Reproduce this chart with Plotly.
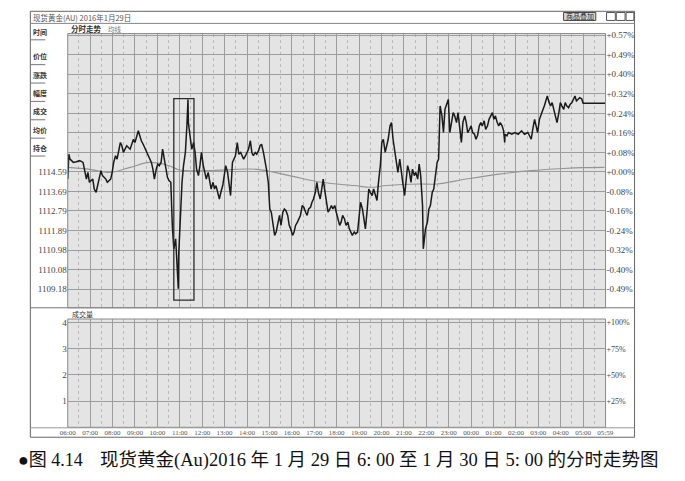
import pandas as pd
import plotly.graph_objects as go

# ---------------- data ----------------
minutes_from_open = [
    0, 3, 6, 15, 23, 32, 41, 50, 54, 58, 67, 71, 76, 80, 84, 89, 93, 102, 106, 115,
    119, 123, 128, 132, 141, 145, 149, 154, 158, 167, 171, 176, 180, 189, 193, 197, 202, 206, 211, 215,
    219, 224, 228, 232, 237, 241, 245, 250, 254, 258, 263, 267, 271, 276, 280, 284, 289, 293, 296, 297,
    299, 302, 306, 310, 315, 319, 322, 323, 328, 332, 337, 341, 345, 350, 354, 358, 363, 367, 371, 376,
    380, 384, 389, 393, 397, 402, 406, 410, 415, 419, 423, 428, 432, 436, 441, 445, 449, 454, 458, 463,
    467, 471, 476, 480, 484, 489, 493, 497, 502, 506, 511, 515, 519, 524, 528, 532, 537, 539, 541, 545,
    550, 554, 558, 563, 567, 571, 576, 580, 584, 589, 593, 597, 602, 606, 610, 615, 619, 623, 628, 632,
    637, 641, 645, 650, 654, 658, 663, 667, 671, 676, 680, 684, 689, 693, 697, 702, 706, 710, 715, 719,
    723, 728, 732, 736, 741, 745, 750, 754, 758, 762, 767, 771, 776, 780, 784, 789, 793, 797, 802, 806,
    810, 815, 819, 824, 828, 832, 837, 841, 845, 850, 854, 858, 863, 867, 871, 876, 880, 884, 889, 893,
    897, 902, 906, 910, 915, 919, 923, 928, 932, 937, 941, 945, 950, 952, 956, 958, 963, 967, 971, 976,
    980, 984, 989, 993, 996, 997, 1002, 1006, 1010, 1015, 1019, 1023, 1028, 1032, 1036, 1041, 1045, 1049, 1054, 1058,
    1063, 1067, 1071, 1076, 1080, 1084, 1089, 1093, 1097, 1102, 1106, 1110, 1115, 1119, 1124, 1128, 1132, 1137, 1141, 1145,
    1150, 1154, 1158, 1163, 1167, 1170, 1171, 1176, 1180, 1189, 1197, 1206, 1215, 1223, 1232, 1237, 1241, 1245, 1250, 1254,
    1258, 1263, 1267, 1271, 1276, 1280, 1284, 1289, 1293, 1297, 1302, 1306, 1310, 1315, 1319, 1323, 1328, 1332, 1336, 1341,
    1345, 1350, 1354, 1358, 1362, 1367, 1371, 1376, 1380, 1439,
]
price = [
    1114.26, 1115.41, 1115.18, 1115.03, 1115.06, 1115.11, 1115.03, 1114.26, 1114.57, 1114.11, 1114.26, 1113.80, 1113.65, 1113.96, 1114.34, 1114.65, 1114.42, 1114.26, 1114.11, 1114.26,
    1114.57, 1115.03, 1115.34, 1115.18, 1115.95, 1115.80, 1115.49, 1115.64, 1115.80, 1115.64, 1115.87, 1116.10, 1115.95, 1116.49, 1116.26, 1116.03, 1115.87, 1115.72, 1115.49, 1115.41,
    1115.18, 1115.03, 1114.72, 1114.26, 1114.72, 1114.95, 1114.88, 1115.03, 1115.64, 1115.18, 1114.57, 1114.34, 1114.19, 1114.11, 1112.12, 1111.04, 1111.50, 1110.12, 1109.20, 1110.74,
    1111.66, 1113.04, 1114.11, 1114.88, 1115.49, 1116.72, 1117.94, 1116.87, 1116.26, 1115.64, 1115.95, 1115.49, 1114.72, 1114.42, 1114.88, 1115.49, 1114.88, 1114.57, 1114.26, 1114.57,
    1114.11, 1113.80, 1114.11, 1113.80, 1113.96, 1113.65, 1113.34, 1113.65, 1113.96, 1114.42, 1114.88, 1114.57, 1114.11, 1113.50, 1115.03, 1115.18, 1115.34, 1115.95, 1115.41, 1115.49,
    1115.34, 1115.18, 1115.34, 1115.49, 1115.64, 1116.03, 1115.49, 1115.34, 1115.49, 1115.41, 1115.57, 1115.80, 1115.87, 1115.49, 1115.18, 1114.72, 1114.11, 1113.04, 1112.88, 1112.73,
    1112.12, 1111.66, 1111.81, 1112.27, 1112.58, 1112.12, 1112.73, 1112.88, 1112.81, 1112.58, 1112.12, 1111.96, 1111.66, 1111.81, 1112.12, 1112.27, 1112.42, 1112.58, 1113.04, 1112.96,
    1112.73, 1112.58, 1112.88, 1112.96, 1113.19, 1113.34, 1113.65, 1114.11, 1113.65, 1113.34, 1113.80, 1114.26, 1113.65, 1113.19, 1112.73, 1112.88, 1113.04, 1112.88, 1113.04, 1112.73,
    1112.42, 1112.12, 1112.27, 1112.58, 1112.42, 1112.12, 1112.27, 1111.96, 1111.81, 1111.66, 1111.81, 1111.73, 1111.81, 1112.58, 1113.19, 1112.88, 1112.27, 1111.96, 1112.88, 1113.80,
    1113.65, 1113.50, 1113.80, 1113.50, 1113.27, 1114.11, 1114.88, 1115.95, 1116.10, 1115.49, 1115.80, 1116.10, 1116.72, 1116.87, 1116.10, 1115.49, 1115.03, 1114.57, 1115.18, 1114.57,
    1114.11, 1113.50, 1114.26, 1114.88, 1114.57, 1114.11, 1114.72, 1114.42, 1114.57, 1114.26, 1114.95, 1114.42, 1113.04, 1111.04, 1111.66, 1111.96, 1112.27, 1112.88, 1113.04, 1113.65,
    1113.80, 1114.26, 1115.03, 1115.18, 1116.41, 1117.64, 1117.18, 1116.41, 1117.48, 1117.79, 1117.94, 1116.41, 1117.02, 1117.33, 1117.18, 1116.87, 1117.33, 1116.56, 1115.95, 1116.87,
    1117.18, 1116.87, 1116.41, 1116.56, 1116.72, 1116.41, 1116.33, 1116.10, 1116.26, 1116.72, 1116.87, 1116.72, 1116.95, 1116.56, 1116.72, 1117.02, 1117.18, 1117.33, 1117.02, 1117.18,
    1116.87, 1116.72, 1116.87, 1116.72, 1116.49, 1115.95, 1116.33, 1116.26, 1116.41, 1116.33, 1116.41, 1116.33, 1116.49, 1116.33, 1116.41, 1116.26, 1116.10, 1116.56, 1117.02, 1116.72,
    1116.41, 1117.02, 1117.18, 1117.41, 1117.64, 1117.94, 1118.10, 1117.79, 1117.64, 1117.79, 1117.48, 1117.18, 1116.87, 1117.33, 1117.79, 1117.64, 1117.48, 1117.79, 1117.64, 1117.56,
    1117.71, 1117.79, 1117.94, 1118.10, 1117.87, 1117.94, 1118.02, 1117.97, 1117.76, 1117.76,
]
avg_minutes = [0, 54, 115, 167, 219, 271, 297, 376, 506, 593, 680, 767, 810, 854, 941, 989, 1067, 1154, 1241, 1328, 1380, 1437]
avg_price = [1114.80, 1114.72, 1114.57, 1114.80, 1115.03, 1114.88, 1114.69, 1114.65, 1114.71, 1114.42, 1114.11,
             1113.96, 1113.88, 1113.96, 1114.03, 1114.03, 1114.26, 1114.49, 1114.65, 1114.75, 1114.79, 1114.80]

base_price = 1114.59          # 0.00% reference
price_step = 0.9015           # one grid row (about 0.08 %)
left_tick_labels = ["1114.59", "1113.69", "1112.79", "1111.89", "1110.98", "1110.08", "1109.18"]
right_tick_labels = ["+0.57%", "+0.49%", "+0.40%", "+0.32%", "+0.24%", "+0.16%", "+0.08%", "+0.00%",
                     "-0.08%", "-0.16%", "-0.24%", "-0.32%", "-0.40%", "-0.49%"]
volume_ticks = [1, 2, 3, 4]
volume_labels = ["1", "2", "3", "4"]
volume_pct_labels = ["+25%", "+50%", "+75%", "+100%"]
time_labels = ["06:00", "07:00", "08:00", "09:00", "10:00", "11:00", "12:00", "13:00", "14:00", "15:00",
               "16:00", "17:00", "18:00", "19:00", "20:00", "21:00", "22:00", "23:00", "00:00", "01:00",
               "02:00", "03:00", "04:00", "05:00", "05:59"]
sidebar_labels = ["时间", "价位", "涨跌", "幅度", "成交", "均价", "持仓"]
box_start_min, box_end_min = 284, 338     # highlighted spike 10:44-11:38
box_low, box_high = 1108.67, 1117.98

title_text = "现货黄金(AU) 2016年1月29日"
caption_num = "●图 4.14"
caption_text = "现货黄金(Au)2016 年 1 月 29 日 6: 00 至 1 月 30 日 5: 00 的分时走势图"

# ---------------- build ----------------
t0 = pd.Timestamp("2016-01-29 06:00")
times = t0 + pd.to_timedelta(minutes_from_open, unit="m")
avg_times = t0 + pd.to_timedelta(avg_minutes, unit="m")
t_end = t0 + pd.Timedelta(minutes=1440)
hour_ticks = [t0 + pd.Timedelta(hours=h) for h in range(24)] + [t0 + pd.Timedelta(minutes=1439)]

# the page body keeps its default 8px margin, so the figure is drawn from (8, 8)
OFF = 8
W, H = 685 - 2 * OFF, 481 - 2 * OFF
def px(x): return (x - OFF) / W
def py(y): return 1 - (y - OFF) / H

CJK = "Noto Sans CJK SC"
SERIF = "Liberation Serif"
PLOT_BG = "#e4e4e4"
GRID = "#9d9d9d"
MINOR = "#b9b9b9"

grid_vals = [base_price + k * price_step for k in range(7, -8, -1)]
left_text = [""] * 7 + left_tick_labels + [""]
right_text = right_tick_labels + [""]
y_range = [base_price - 6.96 * price_step, base_price + 7.09 * price_step]

fig = go.Figure()
fig.add_trace(go.Scatter(x=avg_times, y=avg_price, mode="lines", line=dict(color="#959595", width=1.1, shape="spline"),
                         xaxis="x", yaxis="y", hoverinfo="skip"))
fig.add_trace(go.Scatter(x=times, y=price, mode="lines", line=dict(color="#1a1a1a", width=1.5),
                         xaxis="x", yaxis="y"))
fig.add_trace(go.Scatter(x=[], y=[], xaxis="x", yaxis="y2"))
fig.add_trace(go.Scatter(x=[], y=[], xaxis="x2", yaxis="y3"))
fig.add_trace(go.Scatter(x=[], y=[], xaxis="x2", yaxis="y4"))

xcommon = dict(type="date", range=[t0, t_end], showgrid=True, gridcolor=GRID, gridwidth=1,
               zeroline=False, showline=False, ticks="",
               minor=dict(dtick=1800000, tick0=t0, showgrid=True, gridcolor=MINOR, griddash="dot", gridwidth=1))
top_dom = [py(306.7), py(30.7)]
bot_dom = [py(427), py(318)]
xdom = [px(61), px(612)]

fig.update_layout(
    width=W, height=H, margin=dict(l=0, r=0, t=0, b=0),
    paper_bgcolor="white", plot_bgcolor=PLOT_BG, showlegend=False,
    xaxis=dict(domain=xdom, anchor="y", showticklabels=False, tick0=t0, dtick=3600000, **xcommon),
    xaxis2=dict(domain=xdom, anchor="y3", tickmode="array", tickvals=hour_ticks, ticktext=time_labels,
                tickfont=dict(family=SERIF, size=7, color="#555"), tickangle=0, **xcommon),
    yaxis=dict(domain=top_dom, anchor="x", range=y_range, tickmode="array", tickvals=grid_vals, ticktext=left_text,
               showgrid=True, gridcolor=GRID, zeroline=False, ticks="", tickfont=dict(family=SERIF, size=9, color="#444")),
    yaxis2=dict(overlaying="y", side="right", anchor="x", range=y_range, tickmode="array", tickvals=grid_vals,
                ticktext=right_text, showgrid=False, zeroline=False, ticks="", tickfont=dict(family=SERIF, size=9, color="#444")),
    yaxis3=dict(domain=bot_dom, anchor="x2", range=[0, 4.14], tickmode="array", tickvals=volume_ticks, ticktext=volume_labels,
                showgrid=True, gridcolor=GRID, zeroline=False, ticks="", tickfont=dict(family=SERIF, size=9, color="#444")),
    yaxis4=dict(overlaying="y3", side="right", anchor="x2", range=[0, 4.14], tickmode="array", tickvals=volume_ticks,
                ticktext=volume_pct_labels, showgrid=False, zeroline=False, ticks="", tickfont=dict(family=SERIF, size=8, color="#444")),
)

shapes = []
def line(x0, y0, x1, y1, color="#555", width=1):
    shapes.append(dict(type="line", xref="paper", yref="paper", x0=px(x0), y0=py(y0), x1=px(x1), y1=py(y1),
                       line=dict(color=color, width=width)))
def rect(x0, y0, x1, y1, color="#555", width=1, fill=None):
    shapes.append(dict(type="rect", xref="paper", yref="paper", x0=px(x0), y0=py(y0), x1=px(x1), y1=py(y1),
                       line=dict(color=color, width=width), fillcolor=fill or "rgba(0,0,0,0)", layer="above"))

rect(22.7, 8.3, 641.7, 437, "#666", 1)
line(22.7, 20.5, 641.7, 20.5, "#888", 1)
line(22.7, 306.7, 641.7, 306.7, "#777", 1)
rect(61, 30.7, 612, 306.7, "#8a8a8a", 1)
rect(61, 318, 612, 427, "#8a8a8a", 1)
line(22.7, 427.5, 641.7, 427.5, "#999", 1)
# buttons at top-right
rect(569, 9.5, 602, 17.5, "#444", 1, "#d8d8d8")
rect(613, 9.5, 622, 17.5, "#555", 1)
rect(623, 9.5, 632, 17.5, "#555", 1)
rect(633, 9.5, 641, 17.5, "#555", 1)
# sidebar underlines
for yy in [37, 62, 80.5, 99, 117.5, 136, 154]:
    line(23, yy, 38, yy, "#777", 1)
# highlight box around the spike
shapes.append(dict(type="rect", xref="x", yref="y",
                   x0=t0 + pd.Timedelta(minutes=box_start_min), x1=t0 + pd.Timedelta(minutes=box_end_min),
                   y0=box_low, y1=box_high, line=dict(color="#2a2a2a", width=1.3)))
fig.update_layout(shapes=shapes)

ann = []
def text(x, y, s, size=8, color="#333", family=CJK, xanchor="left"):
    ann.append(dict(xref="paper", yref="paper", x=px(x), y=py(y), text=s, showarrow=False, xanchor=xanchor,
                    yanchor="middle", font=dict(family=family, size=size, color=color)))

text(23, 14.5, title_text, 7.5, "#555")
text(585.5, 13.5, "商品叠加", 7, "#222", xanchor="center")
text(62, 26, "<b>分时走势</b>", 7.5, "#333")
text(100, 26, "均线", 6.5, "#777")
for lab, yy in zip(sidebar_labels, [29, 53.5, 72, 90.5, 109, 127.5, 145.5]):
    text(23, yy, "<b>" + lab + "</b>", 7, "#333")
text(63, 313, "成交量", 7, "#333")
text(8, 460, caption_num, 18, "#111", family=SERIF + ", " + CJK)
text(92, 460, caption_text, 18.5, "#111", family=SERIF + ", " + CJK)
fig.update_layout(annotations=ann)

fig.write_html("out.html")
